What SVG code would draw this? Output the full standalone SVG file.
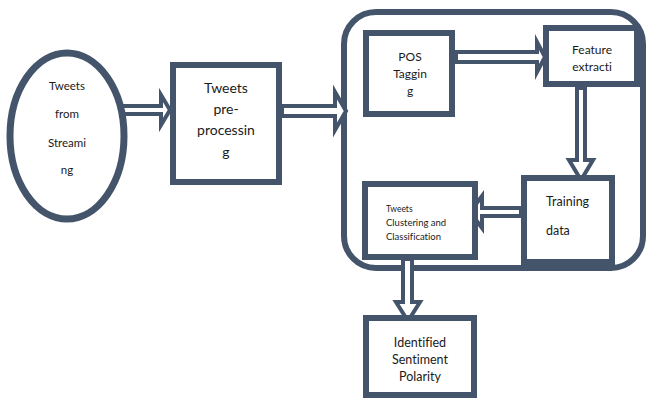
<svg xmlns="http://www.w3.org/2000/svg" width="647" height="400" viewBox="0 0 647 400">
<style>
.n{fill:#fff;stroke:#44546a;stroke-width:6}
.ar{fill:#fff;stroke:#44546a;stroke-width:4;stroke-linejoin:miter;stroke-miterlimit:10}
text{font-family:Lato,"Open Sans","Liberation Sans",sans-serif;fill:#1a1a1a;font-variant-ligatures:none;font-feature-settings:"liga" 0,"clig" 0}
.c{text-anchor:middle}
</style>
<rect width="647" height="400" fill="#fff"/>
<g id="container">
<rect x="344" y="12" width="299" height="256" rx="32" ry="32" fill="#fff" stroke="#44546a" stroke-width="6"/>
</g>
<g id="connectors">
<polygon class="ar" points="118,106 161,106 161,95 170,110 161,125 161,114 118,114"/>
<polygon class="ar" points="282,106 335,106 335,92 346,111 335,130 335,116 282,116"/>
<polygon class="ar" points="456,52 537,52 537,42 545,57 537,72 537,62 456,62"/>
<polygon class="ar" points="577,88 577,160 569,160 581,180 593,160 585,160 585,88"/>
<polygon class="ar" points="521,208 482,208 482,196 470,212 482,228 482,216 521,216"/>
<polygon class="ar" points="403,259 403,302 396,302 408,321 420,302 412,302 412,259"/>
</g>
<g id="tweets-streaming">
<ellipse cx="67" cy="136" rx="57" ry="83" fill="#fff" stroke="#44546a" stroke-width="7"/>
<text class="c" x="67" y="90" font-size="11.5">Tweets</text>
<text class="c" x="67" y="118" font-size="11.5">from</text>
<text class="c" x="67" y="146.5" font-size="11.5">Streami</text>
<text class="c" x="67" y="174" font-size="11.5">ng</text>
</g>
<g id="preprocessing">
<rect class="n" x="173" y="65" width="106" height="117"/>
<text class="c" x="226" y="93" font-size="14">Tweets</text>
<text class="c" x="226" y="114" font-size="14">pre-</text>
<text class="c" x="226" y="135" font-size="14">processin</text>
<text class="c" x="226" y="157" font-size="14">g</text>
</g>
<g id="pos-tagging">
<rect class="n" x="366" y="33" width="86" height="81"/>
<text class="c" x="410" y="61" font-size="12">POS</text>
<text class="c" x="410" y="78" font-size="12">Taggin</text>
<text class="c" x="410" y="95" font-size="12">g</text>
</g>
<g id="feature-extraction">
<rect class="n" x="546" y="28" width="91" height="56"/>
<text class="c" x="592" y="54" font-size="12">Feature</text>
<text class="c" x="592" y="71" font-size="12">extracti</text>
</g>
<g id="training-data">
<rect class="n" x="524" y="178" width="88" height="84"/>
<text x="546" y="206" font-size="12.5">Training</text>
<text x="546" y="235" font-size="12.5">data</text>
</g>
<g id="clustering">
<rect class="n" x="365" y="184" width="110" height="73"/>
<text x="386" y="212" font-size="8.5">Tweets</text>
<text x="386" y="226" font-size="9.5">Clustering and</text>
<text x="386" y="240" font-size="9.5">Classification</text>
</g>
<g id="sentiment-polarity">
<rect class="n" x="366" y="318" width="108" height="77"/>
<text class="c" x="420" y="347" font-size="12.5">Identified</text>
<text class="c" x="420" y="364" font-size="12.5">Sentiment</text>
<text class="c" x="420" y="381" font-size="12.5">Polarity</text>
</g>
</svg>
